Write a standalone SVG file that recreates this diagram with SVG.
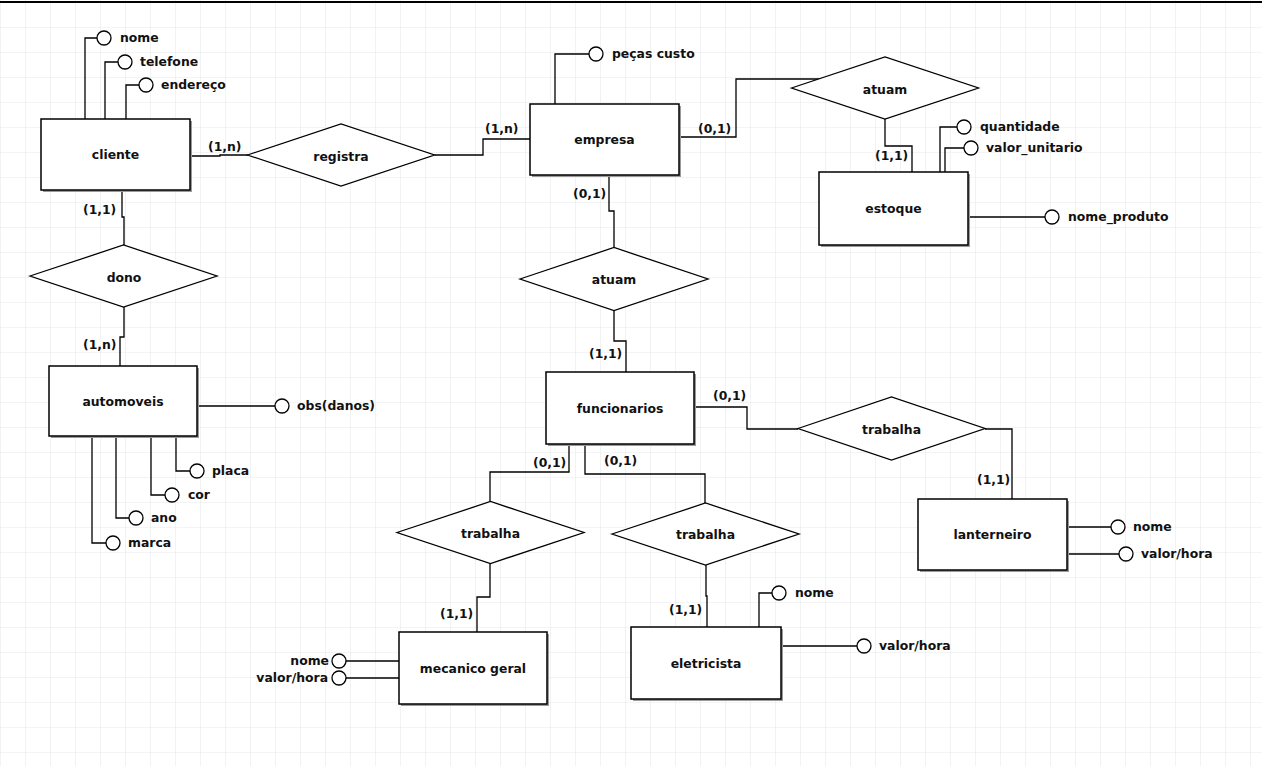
<svg xmlns="http://www.w3.org/2000/svg" width="1262" height="766" viewBox="0 0 1262 766">
<defs>
<pattern id="grid" x="0" y="2" width="25" height="25" patternUnits="userSpaceOnUse">
<path d="M0 0H25M0 0V25" fill="none" stroke="#e6eaed" stroke-width="1.2"/>
</pattern>
</defs>
<style>
text{font-family:"DejaVu Sans","Liberation Sans",sans-serif;font-weight:bold;font-size:12.4px;fill:#111}
.c{text-anchor:middle}
.e{text-anchor:end}
.ent{fill:#fff;stroke:#000;stroke-width:1.5}
.sh{fill:#9a9a9a}
.rel{fill:#fff;stroke:#000;stroke-width:1.3}
.att{fill:#fff;stroke:#000;stroke-width:1.3}
.ln{fill:none;stroke:#000;stroke-width:1.3}
</style>
<rect width="1262" height="766" fill="#fff"/>
<rect width="1262" height="766" fill="url(#grid)"/>
<line x1="0" y1="2" x2="1262" y2="2" stroke="#000" stroke-width="2"/>

<g id="connectors">
<polyline class="ln" points="190,156 220,156 220,155 248,155"/>
<polyline class="ln" points="434.5,155 483,155 483,139 530,139"/>
<polyline class="ln" points="679,137 736,137 736,79 822,79"/>
<polyline class="ln" points="885,119 885,146 912,146 912,172"/>
<polyline class="ln" points="122,190 122,217 124,217 124,245"/>
<polyline class="ln" points="124,307 124,337 120,337 120,366"/>
<polyline class="ln" points="609,175 609,211 614,211 614,247.5"/>
<polyline class="ln" points="614,310.5 614,341 626,341 626,372"/>
<polyline class="ln" points="694,407 747,407 747,429 798,429"/>
<polyline class="ln" points="985,429 1012,429 1012,499"/>
<polyline class="ln" points="569,444 569,472 490,472 490,501.5"/>
<polyline class="ln" points="585,444 585,474 705,474 705,503"/>
<polyline class="ln" points="490,563.5 490,597 477,597 477,632"/>
<polyline class="ln" points="706,565 706,596 707,596 707,627"/>
<!-- attribute links -->
<polyline class="ln" points="97,38 85,38 85,119"/>
<polyline class="ln" points="118,62 105,62 105,119"/>
<polyline class="ln" points="139,85 126,85 126,119"/>
<polyline class="ln" points="589,54 555,54 555,104"/>
<polyline class="ln" points="957,127 940,127 940,172"/>
<polyline class="ln" points="964,148 945,148 945,172"/>
<polyline class="ln" points="968,217 1045,217"/>
<polyline class="ln" points="197,406 275,406"/>
<polyline class="ln" points="176,436 176,471 190,471"/>
<polyline class="ln" points="151,436 151,495 165,495"/>
<polyline class="ln" points="116,436 116,518 129,518"/>
<polyline class="ln" points="92,436 92,543 106,543"/>
<polyline class="ln" points="1067,527 1111,527"/>
<polyline class="ln" points="1067,554 1119,554"/>
<polyline class="ln" points="346,661 399,661"/>
<polyline class="ln" points="346,678 399,678"/>
<polyline class="ln" points="772,593 759,593 759,627"/>
<polyline class="ln" points="781,646 857,646"/>
<!-- cardinalities -->
<text x="208" y="151">(1,n)</text>
<text x="485" y="133">(1,n)</text>
<text x="698" y="133">(0,1)</text>
<text x="875" y="160">(1,1)</text>
<text x="83" y="214">(1,1)</text>
<text x="83" y="349">(1,n)</text>
<text x="573" y="198">(0,1)</text>
<text x="589" y="358">(1,1)</text>
<text x="713" y="400">(0,1)</text>
<text x="977" y="484">(1,1)</text>
<text x="533" y="467">(0,1)</text>
<text x="604" y="465">(0,1)</text>
<text x="440" y="618">(1,1)</text>
<text x="669" y="614">(1,1)</text>
</g>

<g id="cliente">
<rect class="sh" x="43" y="121" width="149" height="71"/>
<rect class="ent" x="41" y="119" width="149" height="71"/>
<text class="c" x="115.5" y="159">cliente</text>
</g>
<g id="empresa">
<rect class="sh" x="532" y="106" width="149" height="71"/>
<rect class="ent" x="530" y="104" width="149" height="71"/>
<text class="c" x="604.5" y="144">empresa</text>
</g>
<g id="estoque">
<rect class="sh" x="821" y="174" width="149" height="73"/>
<rect class="ent" x="819" y="172" width="149" height="73"/>
<text class="c" x="893.5" y="213">estoque</text>
</g>
<g id="automoveis">
<rect class="sh" x="51" y="368" width="148" height="70"/>
<rect class="ent" x="49" y="366" width="148" height="70"/>
<text class="c" x="123" y="406">automoveis</text>
</g>
<g id="funcionarios">
<rect class="sh" x="548" y="374" width="148" height="72"/>
<rect class="ent" x="546" y="372" width="148" height="72"/>
<text class="c" x="620" y="413">funcionarios</text>
</g>
<g id="lanterneiro">
<rect class="sh" x="920" y="501" width="149" height="71"/>
<rect class="ent" x="918" y="499" width="149" height="71"/>
<text class="c" x="992.5" y="539">lanterneiro</text>
</g>
<g id="mecanico_geral">
<rect class="sh" x="401" y="634" width="148" height="72"/>
<rect class="ent" x="399" y="632" width="148" height="72"/>
<text class="c" x="473" y="673">mecanico geral</text>
</g>
<g id="eletricista">
<rect class="sh" x="633" y="629" width="150" height="72"/>
<rect class="ent" x="631" y="627" width="150" height="72"/>
<text class="c" x="706" y="668">eletricista</text>
</g>

<g id="registra">
<polygon class="rel" points="247.5,155 341,124 434.5,155 341,186"/>
<text class="c" x="341" y="161">registra</text>
</g>
<g id="atuam_estoque">
<polygon class="rel" points="791.5,88 885,57 978.5,88 885,119"/>
<text class="c" x="885" y="94">atuam</text>
</g>
<g id="dono">
<polygon class="rel" points="30,276 123.5,245 217,276 123.5,307"/>
<text class="c" x="124" y="282">dono</text>
</g>
<g id="atuam_funcionarios">
<polygon class="rel" points="520,279 614,247.5 708,279 614,310.5"/>
<text class="c" x="614" y="284">atuam</text>
</g>
<g id="trabalha_lanterneiro">
<polygon class="rel" points="798,428.5 891.5,397 985,428.5 891.5,460"/>
<text class="c" x="891.5" y="434">trabalha</text>
</g>
<g id="trabalha_mecanico">
<polygon class="rel" points="397,532.5 490.5,501.5 584,532.5 490.5,563.5"/>
<text class="c" x="490.5" y="538">trabalha</text>
</g>
<g id="trabalha_eletricista">
<polygon class="rel" points="612,534 705.5,503 799,534 705.5,565"/>
<text class="c" x="705.5" y="539">trabalha</text>
</g>

<g id="attr_cliente_nome"><circle class="att" cx="104" cy="38" r="7"/><text x="120" y="42">nome</text></g>
<g id="attr_cliente_telefone"><circle class="att" cx="125" cy="62" r="7"/><text x="140" y="66">telefone</text></g>
<g id="attr_cliente_endereco"><circle class="att" cx="146" cy="85" r="7"/><text x="161" y="89">endereço</text></g>
<g id="attr_empresa_pecas"><circle class="att" cx="596" cy="54" r="7"/><text x="612" y="58">peças custo</text></g>
<g id="attr_estoque_quantidade"><circle class="att" cx="964" cy="127" r="7"/><text x="980" y="131">quantidade</text></g>
<g id="attr_estoque_valor"><circle class="att" cx="971" cy="148" r="7"/><text x="986" y="152">valor_unitario</text></g>
<g id="attr_estoque_nome"><circle class="att" cx="1052" cy="217" r="7"/><text x="1068" y="221">nome_produto</text></g>
<g id="attr_auto_obs"><circle class="att" cx="282" cy="406" r="7"/><text x="297" y="410">obs(danos)</text></g>
<g id="attr_auto_placa"><circle class="att" cx="197" cy="471" r="7"/><text x="212" y="475">placa</text></g>
<g id="attr_auto_cor"><circle class="att" cx="172" cy="495" r="7"/><text x="188" y="499">cor</text></g>
<g id="attr_auto_ano"><circle class="att" cx="136" cy="518" r="7"/><text x="151" y="522">ano</text></g>
<g id="attr_auto_marca"><circle class="att" cx="113" cy="543" r="7"/><text x="128" y="547">marca</text></g>
<g id="attr_lant_nome"><circle class="att" cx="1118" cy="527" r="7"/><text x="1133" y="531">nome</text></g>
<g id="attr_lant_valor"><circle class="att" cx="1126" cy="554" r="7"/><text x="1141" y="558">valor/hora</text></g>
<g id="attr_mec_nome"><circle class="att" cx="339" cy="661" r="7"/><text class="e" x="329" y="665">nome</text></g>
<g id="attr_mec_valor"><circle class="att" cx="339" cy="678" r="7"/><text class="e" x="328" y="682">valor/hora</text></g>
<g id="attr_elet_nome"><circle class="att" cx="779" cy="593" r="7"/><text x="795" y="597">nome</text></g>
<g id="attr_elet_valor"><circle class="att" cx="864" cy="646" r="7"/><text x="879" y="650">valor/hora</text></g>
</svg>
